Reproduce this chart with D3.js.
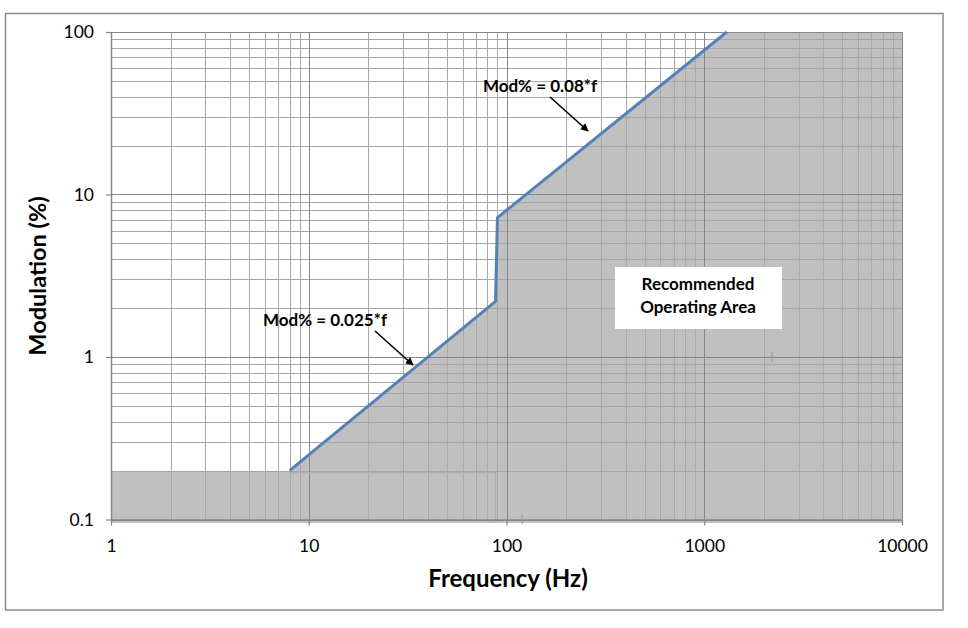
<!DOCTYPE html>
<html>
<head>
<meta charset="utf-8">
<script src="https://cdn.jsdelivr.net/npm/d3@7"></script>
<style>
  html, body { margin: 0; padding: 0; background: #fff; }
  svg { display: block; }
  text { font-family: Lato, "Open Sans", sans-serif; fill: #000; }
</style>
</head>
<body>
<svg id="chart" width="968" height="628"></svg>
<script>
// ---- data ----
const xTickValues = [1, 10, 100, 1000, 10000];
const xTickLabels = ["1", "10", "100", "1000", "10000"];
const yTickValues = [0.1, 1, 10, 100];
const yTickLabels = ["0.1", "1", "10", "100"];

// boundary of the recommended operating area (filled below)
const areaFreq = [1, 8, 88, 90, 1300, 10000];
const areaMod  = [0.2, 0.2, 2.2, 7.2, 100, 100];

// limit curve
const limitFreq = [8, 88, 90, 1300];
const limitMod  = [0.2, 2.2, 7.2, 100];

// stray point markers
const markerFreq = [120, 2200];
const markerMod  = [0.1, 1];

const xTitle = "Frequency (Hz)";
const yTitle = "Modulation (%)";
const note1 = "Mod% = 0.025*f";
const note2 = "Mod% = 0.08*f";
const boxLines = ["Recommended", "Operating Area"];

(function () {
// ---- layout ----
const svg = d3.select("#chart");
const pL = 111, pR = 902, pT = 32, pB = 519.5;

const x = d3.scaleLog().domain([1, 10000]).range([pL, pR]);
const y = d3.scaleLog().domain([0.1, 100]).range([pB, pT]);

// outer frame
svg.append("rect").attr("x", 5.5).attr("y", 13.5).attr("width", 937.5).attr("height", 596.5)
  .attr("fill", "#fff").attr("stroke", "#8c8c8c").attr("stroke-width", 1.5);

// filled area
const areaData = areaFreq.map((f, i) => ({ f, m: areaMod[i] }));
const area = d3.area().x(d => x(d.f)).y0(pB + 3.5).y1(d => y(d.m) + 1);
svg.append("path").datum(areaData).attr("d", area).attr("fill", "#c0c0c0");

// gridlines
const minorX = [], minorY = [];
for (let d = 1; d < 10000; d *= 10) for (let k = 2; k <= 9; k++) minorX.push(k * d);
for (let d = 0.1; d < 99; d *= 10) for (let k = 2; k <= 9; k++) minorY.push(+(k * d).toPrecision(3));

const grid = svg.append("g");
grid.selectAll(".mx").data(minorX).join("line")
  .attr("x1", d => Math.round(x(d)) + 0.5).attr("x2", d => Math.round(x(d)) + 0.5)
  .attr("y1", pT).attr("y2", pB).attr("stroke", "#a8a8a8").attr("stroke-width", 1);
grid.selectAll(".my").data(minorY).join("line")
  .attr("y1", d => Math.round(y(d)) + 0.5).attr("y2", d => Math.round(y(d)) + 0.5)
  .attr("x1", pL).attr("x2", pR).attr("stroke", "#a8a8a8").attr("stroke-width", 1);
grid.selectAll(".Mx").data(xTickValues).join("line")
  .attr("x1", d => Math.round(x(d)) + 0.5).attr("x2", d => Math.round(x(d)) + 0.5)
  .attr("y1", pT).attr("y2", pB).attr("stroke", "#868686").attr("stroke-width", 1);
grid.selectAll(".My").data(yTickValues).join("line")
  .attr("y1", d => Math.round(y(d)) + 0.5).attr("y2", d => Math.round(y(d)) + 0.5)
  .attr("x1", pL).attr("x2", pR).attr("stroke", "#868686").attr("stroke-width", 1);

// edge of the low-frequency part of the area
svg.append("path")
  .attr("d", `M${x(limitFreq[0])},${y(areaMod[0]) + 2}H${x(limitFreq[1])}V${pB + 3.5}`)
  .attr("fill", "none").attr("stroke", "#b0b0b0").attr("stroke-width", 1.2);

// axes
const xAxis = d3.axisBottom(x).tickValues(xTickValues).tickFormat((d, i) => xTickLabels[i])
  .tickSizeInner(6).tickSizeOuter(0).tickPadding(14);
const yAxis = d3.axisLeft(y).tickValues(yTickValues).tickFormat((d, i) => yTickLabels[i])
  .tickSizeInner(5).tickSizeOuter(0).tickPadding(12);

const gx = svg.append("g").attr("transform", `translate(0,${pB})`).call(xAxis);
const gy = svg.append("g").attr("transform", `translate(${pL},0)`).call(yAxis);
[gx, gy].forEach(g => {
  g.selectAll("path").attr("stroke", "#868686").attr("stroke-width", 1.5);
  g.selectAll("line").attr("stroke", "#868686").attr("stroke-width", 1.2);
  g.selectAll("text").attr("font-family", "Lato, sans-serif").attr("font-size", 17.5).attr("fill", "#000");
});

// limit line
const limitData = limitFreq.map((f, i) => ({ f, m: limitMod[i] }));
svg.append("path").datum(limitData)
  .attr("d", d3.line().x(d => x(d.f)).y(d => y(d.m)))
  .attr("fill", "none").attr("stroke", "#5580b8").attr("stroke-width", 3)
  .attr("stroke-linejoin", "round");

// markers
markerFreq.forEach((f, i) => {
  const cx = x(f), cy = y(markerMod[i]);
  svg.append("path").attr("d", `M${cx},${cy - 5}V${cy + 5}M${cx - 3},${cy}H${cx + 3}`)
    .attr("stroke", "#7f9cc4").attr("stroke-width", 1);
});

// annotations
const defs = svg.append("defs");
defs.append("marker").attr("id", "arrow").attr("viewBox", "0 0 10 10").attr("refX", 9).attr("refY", 5)
  .attr("markerWidth", 5).attr("markerHeight", 5).attr("orient", "auto")
  .append("path").attr("d", "M0,0L10,5L0,10Z").attr("fill", "#000");

svg.append("text").attr("x", 325).attr("y", 326).attr("text-anchor", "middle")
  .attr("font-size", 17).attr("font-weight", "bold").text(note1);
svg.append("line").attr("x1", 375).attr("y1", 331).attr("x2", 413).attr("y2", 365)
  .attr("stroke", "#000").attr("stroke-width", 1.6).attr("marker-end", "url(#arrow)");

svg.append("text").attr("x", 540).attr("y", 92).attr("text-anchor", "middle")
  .attr("font-size", 17).attr("font-weight", "bold").text(note2);
svg.append("line").attr("x1", 550).attr("y1", 97).attr("x2", 588).attr("y2", 131)
  .attr("stroke", "#000").attr("stroke-width", 1.6).attr("marker-end", "url(#arrow)");

svg.append("rect").attr("x", 615).attr("y", 267).attr("width", 167).attr("height", 62).attr("fill", "#fff");
svg.append("text").attr("x", 698).attr("y", 290).attr("text-anchor", "middle")
  .attr("font-size", 17).attr("font-weight", "bold").text(boxLines[0]);
svg.append("text").attr("x", 698).attr("y", 313).attr("text-anchor", "middle")
  .attr("font-size", 17).attr("font-weight", "bold").text(boxLines[1]);

// axis titles
svg.append("text").attr("x", 508).attr("y", 587).attr("text-anchor", "middle")
  .attr("font-size", 24).attr("font-weight", "bold").text(xTitle);
svg.append("text").attr("transform", "translate(46,276) rotate(-90)").attr("text-anchor", "middle")
  .attr("font-size", 23.5).attr("font-weight", "bold").text(yTitle);
})();
</script>
</body>
</html>
